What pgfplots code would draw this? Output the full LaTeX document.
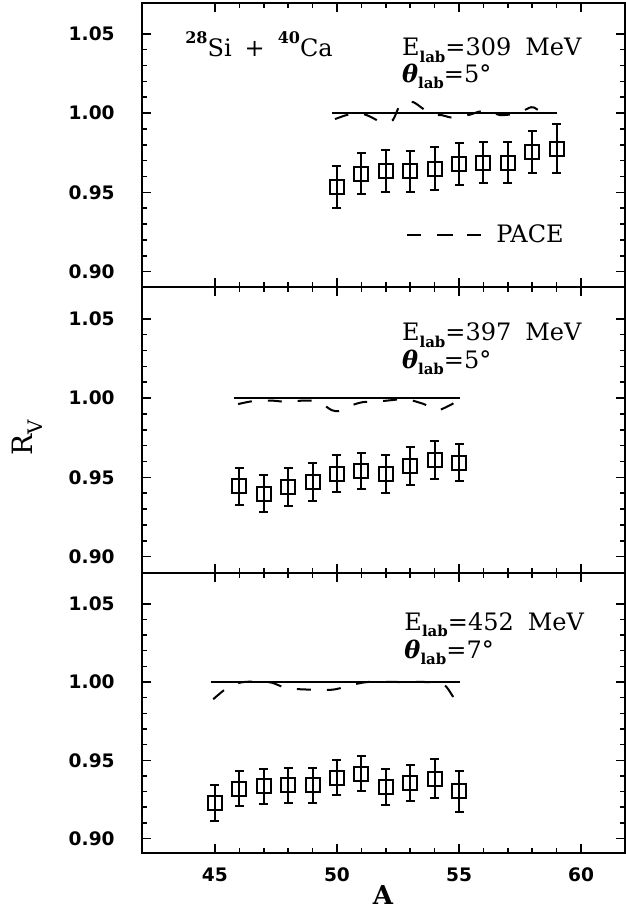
\documentclass[border=0pt]{standalone}
\usepackage{fontspec}
\setmainfont{DejaVu Serif}
\newfontfamily\tickfont{DejaVu Sans}
\usepackage{pgfplots}
\pgfplotsset{compat=1.18}

\pgfplotstableread{
A R e
50 0.9534 0.0135
51 0.9618 0.0130
52 0.9635 0.0132
53 0.9633 0.0130
54 0.9650 0.0134
55 0.9677 0.0133
56 0.9688 0.0132
57 0.9688 0.0132
58 0.9755 0.0133
59 0.9775 0.0153
}\dataA
\pgfplotstableread{
A R e
46 0.9443 0.0116
47 0.9397 0.0117
48 0.9439 0.0118
49 0.9470 0.0120
50 0.9523 0.0118
51 0.9540 0.0116
52 0.9523 0.0120
53 0.9572 0.0118
54 0.9608 0.0120
55 0.9593 0.0119
}\dataB
\pgfplotstableread{
A R e
45 0.9227 0.0113
46 0.9318 0.0112
47 0.9333 0.0112
48 0.9340 0.0112
49 0.9340 0.0112
50 0.9389 0.0113
51 0.9415 0.0114
52 0.9329 0.0113
53 0.9355 0.0114
54 0.9383 0.0123
55 0.9303 0.0131
}\dataC

\pgfplotsset{
  panel/.style={
    anchor=south west,
    scale only axis, width=241.65pt,
    xmin=42, xmax=61.8,
    xtick={45,50,55,60}, minor x tick num=4,
    ytick={0.90,0.95,1.00,1.05}, minor y tick num=4,
    tick align=inside,
    major tick length=4.5pt, minor tick length=2.5pt,
    every tick/.style={line width=0.8pt, black},
    axis line style={line width=1pt},
    /pgf/number format/assume math mode=true,
    y tick label style={/pgf/number format/fixed, /pgf/number format/fixed zerofill, /pgf/number format/precision=2,
      font=\tickfont\bfseries\fontsize{9.3}{9.3}\selectfont, xshift=-10pt},
    x tick label style={font=\tickfont\bfseries\fontsize{9.3}{9.3}\selectfont, yshift=-4pt},
    clip=false,
  },
  datapts/.style={only marks, mark=square, mark size=3.5pt, black, line width=1pt,
    error bars/y dir=both, error bars/y explicit,
    error bars/error bar style={line width=1pt},
    error bars/error mark options={rotate=90, mark size=2.25pt, line width=1pt}},
  pace/.style={black, line width=1pt, dash pattern=on 7pt off 8pt, smooth, tension=0.5},
}
\tikzset{txt/.style={anchor=base west, font=\fontsize{12}{12}\selectfont, inner sep=0pt}}
\newcommand{\labsub}{\raisebox{-3.3pt}{\fontsize{7.5}{7.5}\selectfont\bfseries lab}}
\newcommand{\isosup}[1]{\raisebox{6.5pt}{\fontsize{8}{8}\selectfont\bfseries #1}}

\begin{document}
\begin{tikzpicture}
\useasboundingbox (0,0) rectangle (313pt,-455.5pt);

% Panel 1
\begin{axis}[panel, at={(70.85pt,-143.5pt)}, height=142pt, ymin=0.8903, ymax=1.0694,
  xticklabels={},
  legend style={at={(0.547,0.183)}, anchor=west, draw=none, fill=none, inner sep=0pt,
    font=\fontsize{12}{12}\selectfont},
  legend image code/.code={\draw[black, line width=1pt] (0pt,0pt) -- (7pt,0pt) (16pt,0pt) -- (23pt,0pt) (32pt,0pt) -- (37pt,0pt); \path (0pt,0pt) -- (42pt,0pt);}]
\addplot[forget plot, datapts] table[x=A, y=R, y error=e] {\dataA};
\addplot[forget plot, black, line width=1pt] coordinates {(49.8,1.0) (59.0,1.0)};
\addplot[pace] coordinates {(49.92,0.9962) (50.34,0.9985) (50.74,0.9998) (51.22,0.9987) (51.77,0.9945) (52.0,0.9942) (52.29,0.9956) (52.56,1.0044) (52.85,1.0070) (53.14,1.0068) (53.5,1.0030) (53.88,0.9990) (54.29,0.9987) (54.64,0.9973) (54.98,0.9977) (55.45,0.9990) (55.8,1.0008) (56.21,1.0015) (56.69,0.9987) (57.37,0.9998) (57.7,1.0020) (58.05,1.0036) (58.59,0.9977)};
\addlegendentry{PACE}
\node[txt] at (axis cs:43.77,1.0355) {\isosup{28}Si\hspace{6.5pt}+\hspace{6.5pt}\isosup{40}Ca};
\node[txt] at (axis cs:52.65,1.0360) {E\labsub=309\hspace{7pt}MeV};
\node[txt] at (axis cs:52.65,1.0195) {{\bfseries\itshape θ}\labsub=5°};
\end{axis}

% Panel 2
\begin{axis}[panel, at={(70.85pt,-286.5pt)}, height=143pt, ymin=0.8897, ymax=1.0700,
  xticklabels={}]
\addplot[datapts] table[x=A, y=R, y error=e] {\dataB};
\addplot[black, line width=1pt] coordinates {(45.8,1.0) (55.05,1.0)};
\addplot[pace] coordinates {(45.95,0.9962) (46.66,0.9983) (47.41,0.9983) (47.96,0.9975) (48.51,0.9983) (49.19,0.9979) (49.78,0.9924) (50.08,0.9918) (50.35,0.9941) (51.01,0.9973) (51.58,0.9977) (52.26,0.9987) (52.81,0.9994) (53.56,0.9962) (53.9,0.9935) (54.18,0.9924) (54.72,0.9962) (54.97,0.9987)};
\node[txt] at (axis cs:52.65,1.0360) {E\labsub=397\hspace{7pt}MeV};
\node[txt] at (axis cs:52.65,1.0188) {{\bfseries\itshape θ}\labsub=5°};
\end{axis}

% Panel 3
\begin{axis}[panel, at={(70.85pt,-426.5pt)}, height=140pt, ymin=0.8908, ymax=1.0696]
\addplot[datapts] table[x=A, y=R, y error=e] {\dataC};
\addplot[black, line width=1pt] coordinates {(44.85,1.0) (55.05,1.0)};
\addplot[pace] coordinates {(44.93,0.9890) (45.48,0.9960) (46.02,0.9996) (46.71,1.0003) (47.32,0.9996) (47.94,0.9960) (48.62,0.9953) (49.30,0.9949) (49.92,0.9953) (50.60,0.9981) (51.28,1.0) (52.5,1.0) (53.6,1.0) (54.22,0.9996) (54.50,0.9966) (54.84,0.9885) (55.01,0.9849)};
\node[txt] at (axis cs:52.75,1.0330) {E\labsub=452\hspace{7pt}MeV};
\node[txt] at (axis cs:52.75,1.0151) {{\bfseries\itshape θ}\labsub=7°};
\end{axis}

\node[rotate=90, font=\fontsize{14}{14}\selectfont] at (13.5pt,-219pt) {R\raisebox{-5pt}{\fontsize{10}{10}\selectfont V}};
\node[font=\fontsize{13}{13}\selectfont\bfseries] at (191.5pt,-447.5pt) {A};
\end{tikzpicture}
\end{document}
